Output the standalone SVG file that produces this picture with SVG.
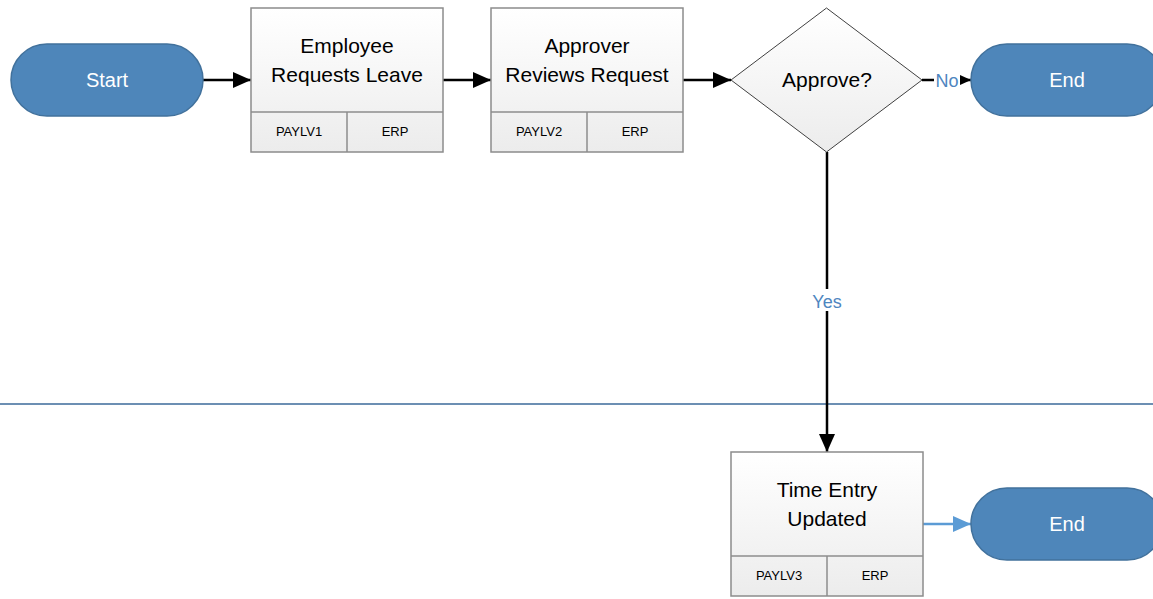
<svg xmlns="http://www.w3.org/2000/svg" width="1153" height="599" viewBox="0 0 1153 599">
<defs>
<linearGradient id="g" x1="0" y1="0" x2="0" y2="1"><stop offset="0" stop-color="#ffffff"/><stop offset="1" stop-color="#ececec"/></linearGradient>
<marker id="ah" markerWidth="18" markerHeight="16" refX="18" refY="8" orient="auto" markerUnits="userSpaceOnUse"><path d="M0,0 L18,8 L0,16 Z" fill="#000"/></marker>
<marker id="ahs" markerWidth="11" markerHeight="10" refX="11" refY="5" orient="auto" markerUnits="userSpaceOnUse"><path d="M0,0 L11,5 L0,10 Z" fill="#000"/></marker>
<marker id="ahb" markerWidth="18" markerHeight="16" refX="18" refY="8" orient="auto" markerUnits="userSpaceOnUse"><path d="M0,0 L18,8 L0,16 Z" fill="#5B9BD5"/></marker>
</defs>
<style>
.term{fill:#4E86BA;stroke:#41719C;stroke-width:1.5}
.tt{font-family:"Liberation Sans",Arial,sans-serif;font-size:20px;fill:#fff;text-anchor:middle}
.box{fill:url(#g);stroke:#8c8c8c;stroke-width:1.5}
.div{stroke:#8c8c8c;stroke-width:1.5}
.mt{font-family:"Liberation Sans",Arial,sans-serif;font-size:21px;fill:#000;text-anchor:middle}
.st{font-family:"Liberation Sans",Arial,sans-serif;font-size:13px;fill:#000;text-anchor:middle}
.lab{font-family:"Liberation Sans",Arial,sans-serif;font-size:18px;fill:#4E86C0;text-anchor:middle}
.c{stroke:#000;stroke-width:2.5;fill:none}
</style>
<rect width="1153" height="599" fill="#fff"/>
<line x1="0" y1="404" x2="1153" y2="404" stroke="#3B6A9A" stroke-width="1.5"/>
<g id="connectors">
<line class="c" x1="203" y1="80" x2="251" y2="80" marker-end="url(#ah)"/>
<line class="c" x1="443" y1="80" x2="491" y2="80" marker-end="url(#ah)"/>
<line class="c" x1="683" y1="80" x2="731" y2="80" marker-end="url(#ah)"/>
<line class="c" x1="922" y1="80" x2="971" y2="80" marker-end="url(#ahs)"/>
<line class="c" x1="827" y1="152" x2="827" y2="452" marker-end="url(#ah)"/>
<line x1="923" y1="524" x2="971" y2="524" stroke="#5B9BD5" stroke-width="2.5" marker-end="url(#ahb)"/>
<rect x="934" y="68" width="26" height="22" fill="#fff"/>
<text class="lab" x="947" y="87">No</text>
<rect x="809" y="289" width="36" height="22" fill="#fff"/>
<text class="lab" x="827" y="308">Yes</text>
</g>
<g id="start">
<rect class="term" x="11" y="44" width="192" height="72" rx="36"/>
<text class="tt" x="107" y="87">Start</text>
</g>
<g id="employee-requests">
<rect class="box" x="251" y="8" width="192" height="144"/>
<line class="div" x1="251" y1="112" x2="443" y2="112"/>
<line class="div" x1="347" y1="112" x2="347" y2="152"/>
<text class="mt" x="347" y="53">Employee</text>
<text class="mt" x="347" y="82">Requests Leave</text>
<text class="st" x="299" y="136">PAYLV1</text>
<text class="st" x="395" y="136">ERP</text>
</g>
<g id="approver-reviews">
<rect class="box" x="491" y="8" width="192" height="144"/>
<line class="div" x1="491" y1="112" x2="683" y2="112"/>
<line class="div" x1="587" y1="112" x2="587" y2="152"/>
<text class="mt" x="587" y="53">Approver</text>
<text class="mt" x="587" y="82">Reviews Request</text>
<text class="st" x="539" y="136">PAYLV2</text>
<text class="st" x="635" y="136">ERP</text>
</g>
<g id="approve">
<path d="M826.5,8 L922,80 L826.5,152 L731,80 Z" fill="url(#g)" stroke="#404040" stroke-width="1"/>
<text class="mt" x="827" y="87">Approve?</text>
</g>
<g id="end1">
<rect class="term" x="971" y="44" width="192" height="72" rx="36"/>
<text class="tt" x="1067" y="87">End</text>
</g>
<g id="time-entry">
<rect class="box" x="731" y="452" width="192" height="144"/>
<line class="div" x1="731" y1="556" x2="923" y2="556"/>
<line class="div" x1="827" y1="556" x2="827" y2="596"/>
<text class="mt" x="827" y="497">Time Entry</text>
<text class="mt" x="827" y="526">Updated</text>
<text class="st" x="779" y="580">PAYLV3</text>
<text class="st" x="875" y="580">ERP</text>
</g>
<g id="end2">
<rect class="term" x="971" y="488" width="192" height="72" rx="36"/>
<text class="tt" x="1067" y="531">End</text>
</g>
</svg>
